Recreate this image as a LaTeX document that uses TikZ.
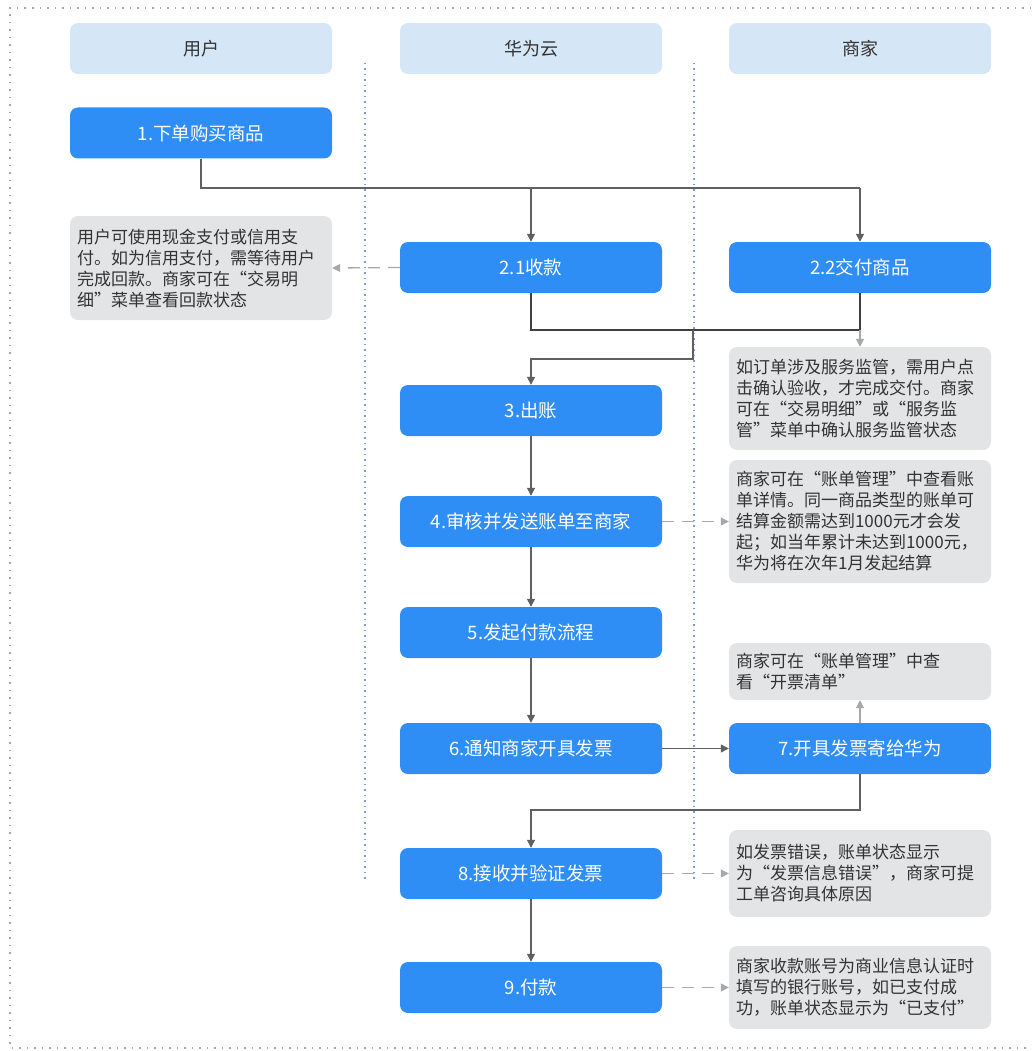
\documentclass[tikz,border=0pt]{standalone}
\usepackage{fontspec}
\setmainfont{Noto Sans CJK SC}
\usetikzlibrary{arrows.meta}
\definecolor{stepblue}{HTML}{2F8EF5}
\definecolor{headblue}{HTML}{D5E6F7}
\definecolor{notegray}{HTML}{E2E4E6}
\definecolor{linegray}{HTML}{606060}
\definecolor{mergegray}{HTML}{404040}
\definecolor{dashgray}{HTML}{A8A8A8}
\definecolor{lanedot}{HTML}{7A9CCF}
\definecolor{textdark}{HTML}{333333}
\begin{document}
\begin{tikzpicture}[x=1pt,y=-1pt,
  stepbox/.style={fill=stepblue, text=white, rounded corners=8pt, minimum width=262pt, minimum height=51pt, inner sep=0pt, font=\fontsize{18.5}{21}\selectfont},
  headbox/.style={fill=headblue, text=textdark, rounded corners=8pt, minimum width=262pt, minimum height=51pt, inner sep=0pt, font=\fontsize{18}{21}\selectfont},
  notebox/.style={fill=notegray, text=textdark, rounded corners=8pt, text width=248pt, inner xsep=7pt, inner ysep=0pt, align=left, font=\fontsize{17}{21}\selectfont},
  plain/.style={draw=linegray, line width=1.3pt},
  flow/.style={plain, -{Triangle[length=8pt,width=8pt]}},
  lightflow/.style={draw=dashgray, line width=1.3pt, -{Triangle[length=8pt,width=8pt]}},
  dflow/.style={draw=dashgray, line width=1.3pt, dash pattern=on 12pt off 8pt, -{Triangle[length=8pt,width=8pt]}},
  lane/.style={draw=lanedot, line width=1.4pt, dash pattern=on 1.5pt off 4pt},
  frame/.style={draw=gray!70, line width=1.4pt, dash pattern=on 1.5pt off 6pt}
]
\useasboundingbox (0,0) rectangle (1031,1051);
\draw[frame] (1031,8) -- (10,8) -- (10,1048) -- (1031,1048);

% lane dividers
\draw[lane] (365,63) -- (365,882);
\draw[lane] (694,63) -- (694,882);

% headers
\node[headbox] (hu) at (201,48.5) {用户};
\node[headbox] (hh) at (531,48.5) {华为云};
\node[headbox] (hm) at (860,48.5) {商家};

% steps
\node[stepbox] (s1) at (201,133) {1.下单购买商品};
\node[stepbox] (s21) at (531,267.5) {2.1收款};
\node[stepbox] (s22) at (860,267.5) {2.2交付商品};
\node[stepbox] (s3) at (531,410.5) {3.出账};
\node[stepbox] (s4) at (531,521.5) {4.审核并发送账单至商家};
\node[stepbox] (s5) at (531,632.5) {5.发起付款流程};
\node[stepbox] (s6) at (531,748.5) {6.通知商家开具发票};
\node[stepbox] (s7) at (860,748.5) {7.开具发票寄给华为};
\node[stepbox] (s8) at (531,873.5) {8.接收并验证发票};
\node[stepbox] (s9) at (531,987.5) {9.付款};

% notes
\node[notebox, minimum height=104pt] (nL) at (201,268) {用户可使用现金支付或信用支\\付。如为信用支付，需等待用户\\完成回款。商家可在“交易明\\细”菜单查看回款状态};
\node[notebox, minimum height=103pt] (n22) at (860,398.5) {如订单涉及服务监管，需用户点\\击确认验收，才完成交付。商家\\可在“交易明细”或“服务监\\管”菜单中确认服务监管状态};
\node[notebox, minimum height=123pt] (n4) at (860,521.5) {商家可在“账单管理”中查看账\\单详情。同一商品类型的账单可\\结算金额需达到1000元才会发\\起；如当年累计未达到1000元，\\华为将在次年1月发起结算};
\node[notebox, minimum height=57pt] (n7) at (860,671.5) {商家可在“账单管理”中查\\看“开票清单”};
\node[notebox, minimum height=87pt] (n8) at (860,873.5) {如发票错误，账单状态显示\\为“发票信息错误”，商家可提\\工单咨询具体原因};
\node[notebox, minimum height=83pt] (n9) at (860,987.5) {商家收款账号为商业信息认证时\\填写的银行账号，如已支付成\\功，账单状态显示为“已支付”};

% connectors
\coordinate (j0) at (531,188);
\coordinate (j1) at (860,188);
\draw[plain] (s1.south) |- (j1);
\draw[flow] (j0) -- (s21.north);
\draw[flow] (j1) -- (s22.north);

\coordinate (m21) at (531,330);
\coordinate (m22) at (860,330);
\coordinate (mm) at (693,330);
\coordinate (mt) at (693,359);
\coordinate (m3) at (531,359);
\draw[plain, draw=mergegray] (s21.south) -- (m21) -- (m22) -- (s22.south);
\draw[flow] (mm) -- (mt) -- (m3) -- (s3.north);
\draw[lightflow] (m22) -- (n22.north);

\draw[dflow] (s21.west) -- (nL.east);
\draw[flow] (s3) -- (s4);
\draw[dflow] (s4.east) -- (n4.west);
\draw[flow] (s4) -- (s5);
\draw[flow] (s5) -- (s6);
\draw[flow] (s6) -- (s7);
\draw[lightflow] (s7) -- (n7);

\coordinate (k1) at (860,810);
\coordinate (k2) at (531,810);
\draw[flow] (s7.south) -- (k1) -- (k2) -- (s8.north);
\draw[dflow] (s8.east) -- (n8.west);
\draw[flow] (s8) -- (s9);
\draw[dflow] (s9.east) -- (n9.west);
\end{tikzpicture}
\end{document}
